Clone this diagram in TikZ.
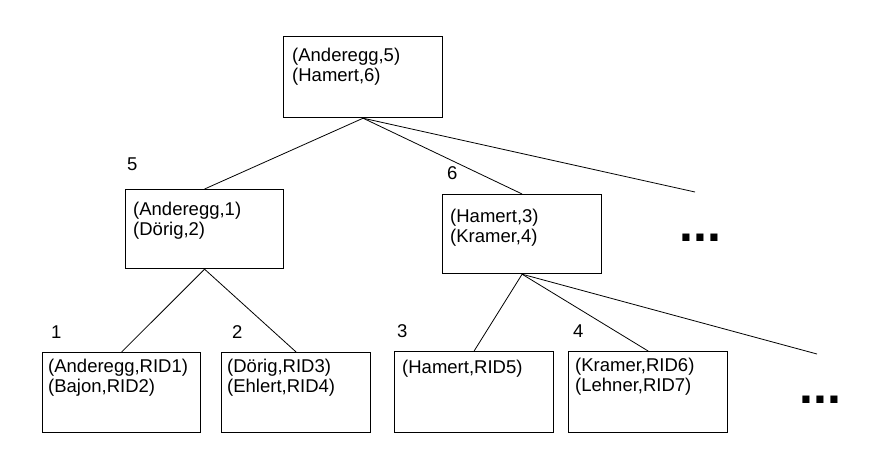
\documentclass[tikz,border=0pt]{standalone}
\usepackage{fontspec}
\setmainfont{Liberation Sans}
\begin{document}
\begin{tikzpicture}[x=1pt,y=-1pt,
  box/.style={draw,line width=1.2pt,rectangle,inner sep=0pt,anchor=north west,minimum width=159pt,minimum height=80pt},
  txt/.style={anchor=north west,inner sep=0pt,align=left,font=\fontsize{18.5}{20}\selectfont},
  num/.style={anchor=base west,inner sep=0pt,font=\fontsize{18.5}{20}\selectfont},
  conn/.style={line width=0.8pt},
  dotsx/.style={anchor=base west,inner sep=0pt,font=\fontsize{50}{50}\selectfont\bfseries}]
\useasboundingbox (0,0) rectangle (874,451);
% boxes
\node[box,minimum height=81pt] (root) at (283,36) {};
\node[box,minimum width=158pt,minimum height=79pt] (l2l) at (125,189) {};
\node[box,minimum width=159pt,minimum height=79pt] (l2r) at (442,194) {};
\node[box,minimum width=158pt] (b1) at (42,352) {};
\node[box,minimum width=149pt] (b2) at (221,352) {};
\node[box,minimum width=159pt,minimum height=81pt] (b3) at (394,351) {};
\node[box,minimum width=159pt,minimum height=81pt] (b4) at (568,351) {};
% texts
\node[txt] (troot) at (292,47.5) {(Anderegg,5)\\(Hamert,6)};
\node[txt] (tl2l) at (133,201.5) {(Anderegg,1)\\(Dörig,2)};
\node[txt] (tl2r) at (450,208.5) {(Hamert,3)\\(Kramer,4)};
\node[txt] (tb1) at (48,358.5) {(Anderegg,RID1)\\(Bajon,RID2)};
\node[txt] (tb2) at (227,358.5) {(Dörig,RID3)\\(Ehlert,RID4)};
\node[txt] (tb3) at (402,359.5) {(Hamert,RID5)};
\node[txt] (tb4) at (575,357.5) {(Kramer,RID6)\\(Lehner,RID7)};
% numbers
\node[num] (n5) at (127,170) {5};
\node[num] (n6) at (447,179) {6};
\node[num] (n1) at (51,338) {1};
\node[num] (n2) at (232,338) {2};
\node[num] (n3) at (397,337) {3};
\node[num] (n4) at (573,337) {4};
% dots
\node[dotsx] (d1) at (679,241) {...};
\node[dotsx] (d2) at (799,403) {...};
% loose ends
\coordinate (e1) at (695,192);
\coordinate (e2) at (817,354);
% connectors
\draw[conn] (root.south) -- (l2l.north);
\draw[conn] (root.south) -- (l2r.north);
\draw[conn] (root.south) -- (e1);
\draw[conn] (l2l.south) -- (b1.north);
\draw[conn] (l2l.south) -- (b2.north);
\draw[conn] (l2r.south) -- (b3.north);
\draw[conn] (l2r.south) -- (b4.north);
\draw[conn] (l2r.south) -- (e2);
\end{tikzpicture}
\end{document}
